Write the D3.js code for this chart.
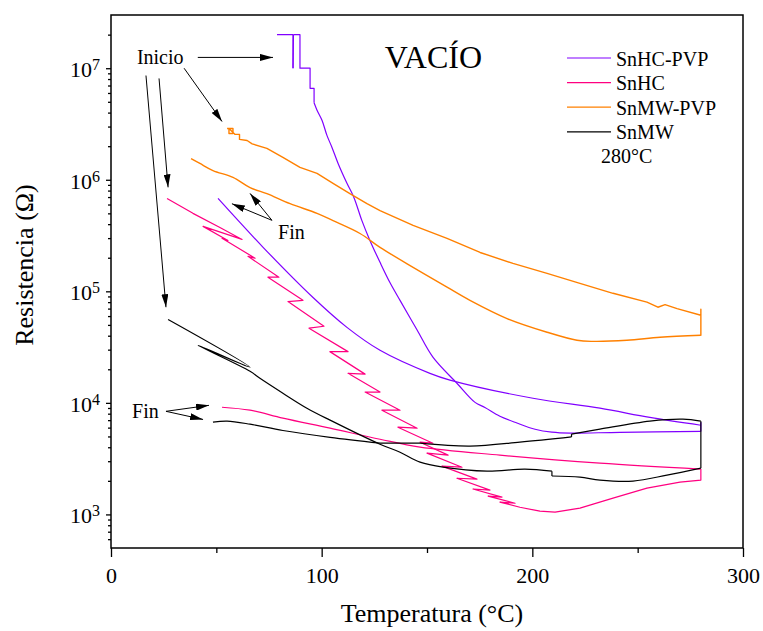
<!DOCTYPE html>
<html>
<head>
<meta charset="utf-8">
<script src="https://cdnjs.cloudflare.com/ajax/libs/d3/7.8.5/d3.min.js"></script>
<style>
body { margin: 0; background: #fff; }
svg text { font-family: 'Liberation Serif', 'Times New Roman', serif; fill: #000; }
</style>
</head>
<body>
<div id="svg-container"></div>
<script>
// points are [temperature (°C), resistance (Ω)]
const snhcPvpHeat = [[78.8, 2.0e7], [86.4, 2.0e7], [86.4, 1.0e7], [86.6, 2.0e7], [89.7, 2.0e7], [89.7, 1.0e7],
  [94.5, 1.0e7], [94.5, 6.6e6], [96.4, 6.6e6], [96.4, 4.9e6], [97.8, 4.2e6], [100.2, 3.4e6], [102.5, 2.5e6],
  [104.9, 1.95e6], [107.8, 1.4e6], [112.0, 9.3e5], [115.3, 6.95e5], [119.1, 4.3e5], [122.9, 2.86e5],
  [127.7, 1.82e5], [132.4, 1.2e5], [137.2, 8.3e4], [145.3, 4.5e4], [152.8, 2.57e4], [164.2, 1.5e4],
  [172.8, 1.01e4], [177.5, 9.1e3], [184.6, 7.6e3], [192.7, 6.6e3], [201.3, 5.8e3], [209.3, 5.46e3],
  [217.9, 5.35e3], [241.6, 5.45e3], [280, 5.55e3], [280, 6.7e3]];
const snhcPvpCool = [[280, 6.3e3], [255.8, 7.4e3], [232.1, 8.96e3], [200.3, 1.1e4], [160.9, 1.6e4], [151.4, 1.84e4],
  [127.7, 2.96e4], [112.0, 4.75e4], [95.9, 8.8e4], [72.2, 2.48e5], [50.8, 6.8e5]];

const snhcHeat = [[26.6, 6.8e5], [38.9, 5.0e5], [51.7, 3.74e5], [62.2, 2.92e5], [43.7, 3.82e5], [55.5, 2.86e5],
  [52.7, 2.99e5], [68.4, 1.98e5], [65.0, 2.06e5], [79.7, 1.34e5], [74.5, 1.34e5], [91.1, 8.3e4], [84.0, 8.1e4],
  [101.1, 4.86e4], [94.0, 4.67e4], [112.5, 2.88e4], [103.9, 2.88e4], [120.6, 1.81e4], [112.5, 1.84e4],
  [127.7, 1.25e4], [120.6, 1.25e4], [137.2, 8.6e3], [128.6, 8.6e3], [145.3, 5.93e3], [136.2, 6.05e3],
  [152.8, 4.35e3], [146.7, 4.44e3], [160.0, 3.4e3], [150.0, 3.54e3], [166.6, 2.65e3], [157.1, 2.71e3],
  [173.7, 2.07e3], [164.2, 2.11e3], [179.9, 1.65e3], [171.8, 1.69e3], [185.6, 1.43e3], [179.0, 1.46e3],
  [191.8, 1.26e3], [184.6, 1.29e3], [194.1, 1.16e3], [203.6, 1.07e3], [210.8, 1.05e3], [222.6, 1.14e3],
  [238.3, 1.4e3], [254.4, 1.72e3], [270.1, 1.95e3], [280, 2.03e3], [280, 2.55e3]];
const snhcCool = [[280, 2.55e3], [232.1, 2.88e3], [184.6, 3.4e3], [146.7, 4.01e3], [127.7, 4.72e3],
  [104.0, 5.93e3], [81.6, 7.29e3], [66.0, 8.6e3], [52.7, 9.14e3]];

const snmwPvpHeat = [[55.1, 2.88e6], [57.9, 2.88e6], [57.9, 2.6e6], [56.0, 2.6e6], [56.0, 2.88e6], [58.9, 2.55e6],
  [61.0, 2.55e6], [61.0, 2.3e6], [64.6, 2.25e6], [67.0, 2.1e6], [74.0, 1.91e6], [81.6, 1.59e6], [89.7, 1.29e6],
  [97.8, 1.14e6], [105.4, 9.3e5], [113.4, 7.5e5], [121.5, 6.1e5], [127.7, 5.3e5], [143.4, 3.9e5], [159.5, 2.98e5],
  [175.2, 2.23e5], [190.8, 1.78e5], [207.0, 1.45e5], [222.6, 1.18e5], [238.3, 9.6e4], [254.4, 8.0e4],
  [259.6, 7.2e4], [263.0, 7.6e4], [268.7, 7.0e4], [280, 6.1e4], [280, 6.9e4], [280, 4.0e4]];
const snmwPvpCool = [[280, 4.04e4], [260.6, 3.87e4], [244.9, 3.64e4], [228.8, 3.56e4], [221.2, 3.64e4],
  [207.0, 4.3e4], [188.0, 5.7e4], [170.4, 8.3e4], [159.5, 1.09e5], [143.4, 1.64e5], [127.7, 2.48e5],
  [118.2, 3.3e5], [105.4, 4.3e5], [97.8, 5.0e5], [85.0, 6.1e5], [74.0, 7.5e5], [66.0, 8.5e5], [57.9, 1.05e6],
  [48.4, 1.21e6], [42.2, 1.4e6], [38.0, 1.55e6]];

const snmwHeat = [[27.1, 5.6e4], [66.0, 2.09e4], [41.3, 3.28e4], [66.0, 1.92e4], [70.7, 1.66e4], [81.6, 1.22e4],
  [93.0, 8.96e3], [104.0, 7.0e3], [127.7, 4.26e3], [137.2, 3.61e3], [146.7, 2.94e3], [157.6, 2.65e3],
  [178.5, 2.44e3], [196.5, 2.55e3], [209.3, 2.44e3], [209.3, 2.21e3], [222.6, 2.16e3], [232.1, 2.03e3],
  [247.8, 1.99e3], [263.9, 2.25e3], [280, 2.6e3], [280, 6.86e3]];
const snmwCool = [[280, 6.86e3], [271.5, 7.14e3], [255.8, 6.86e3], [232.1, 5.81e3], [218.6, 5.25e3],
  [218.6, 4.95e3], [194.1, 4.44e3], [170.4, 4.1e3], [146.7, 4.35e3], [127.7, 4.35e3], [104.0, 4.9e3],
  [81.6, 5.65e3], [66.0, 6.44e3], [55.1, 6.86e3], [48.4, 6.71e3]];

const seriesNames = ['SnHC-PVP', 'SnHC', 'SnMW-PVP', 'SnMW'];
const seriesColors = ['#8000ff', '#ff0080', '#ff8000', '#000000'];
const seriesData = [[snhcPvpHeat, snhcPvpCool], [snhcHeat, snhcCool], [snmwPvpHeat, snmwPvpCool], [snmwHeat, snmwCool]];
// runs drawn fully straight (zigzags / noisy steps)
const straightRuns = [snhcHeat, snmwPvpHeat];

const xMajorTicks = [0, 100, 200, 300];
const xMinorTicks = [50, 150, 250];
const yMajorTicks = [1e3, 1e4, 1e5, 1e6, 1e7];

// annotation arrows, [from, to] in data units
const inicioArrows = [[[41.2, 1.25e7], [76.9, 1.25e7]], [[34.7, 1.0e7], [52.7, 3.33e6]],
  [[22.8, 8.1e6], [27.1, 8.55e5]], [[16.6, 8.6e6], [26.1, 7.2e4]]];
const finArrows = [[[76.4, 4.33e5], [57.4, 6.1e5]], [[76.4, 4.33e5], [66.0, 7.55e5]],
  [[26.1, 8.4e3], [46.5, 9.5e3]], [[26.1, 8.4e3], [43.7, 7.1e3]]];
const labels = [['Inicio', 12.3, 1.1e7], ['Fin', 79.3, 2.92e5], ['Fin', 10.0, 7.3e3]];

const w = 632;
const h = 533;
const padding = { top: 15, right: 20, bottom: 83, left: 111 };

const svg = d3.select('#svg-container').
append('svg').
attr('width', w + padding.left + padding.right).
attr('height', h + padding.top + padding.bottom);

svg.append('defs').
append('marker').
attr('id', 'head').
attr('viewBox', '0 0 13 7').
attr('refX', 13).
attr('refY', 3.5).
attr('markerWidth', 13).
attr('markerHeight', 7).
attr('markerUnits', 'userSpaceOnUse').
attr('orient', 'auto').
append('path').
attr('d', 'M0,0 L13,3.5 L0,7 Z').
style('fill', '#000');

const xScale = d3.scaleLinear().domain([0, 300]).range([0, w]);
const yScale = d3.scaleLog().domain([500, 3e7]).range([h, 0]);

const chart = svg.append('g').
attr('transform', 'translate(' + padding.left + ',' + padding.top + ')');

// curves
const line = d3.line().
x(d => xScale(d[0])).
y(d => yScale(d[1]));
const smoothLine = d3.line().
curve(d3.curveCatmullRom.alpha(0.5)).
x(d => xScale(d[0])).
y(d => yScale(d[1]));

// cut a run into pieces: vertical/horizontal steps straight, the rest smooth
function splitRuns(pts) {
  const pieces = [];
  let cur = [pts[0]];
  let curStep = null;
  for (let i = 1; i < pts.length; i++) {
    const step = pts[i][0] === pts[i - 1][0] || pts[i][1] === pts[i - 1][1];
    if (curStep !== null && step !== curStep) {
      pieces.push({ pts: cur, step: curStep });
      cur = [pts[i - 1]];
    }
    cur.push(pts[i]);
    curStep = step;
  }
  pieces.push({ pts: cur, step: curStep });
  return pieces;
}

seriesData.forEach(function (pair, i) {
  pair.forEach(function (pts) {
    const pieces = straightRuns.includes(pts) ? [{ pts: pts, step: true }] : splitRuns(pts);
    pieces.forEach(function (p) {
      chart.append('path').
      datum(p.pts).
      attr('d', p.step ? line : smoothLine).
      style('fill', 'none').
      style('stroke', seriesColors[i]).
      style('stroke-width', i === 2 ? 1.4 : 1.2).
      style('stroke-linejoin', 'round');
    });
  });
});

// axes
const xAxis = d3.axisBottom(xScale).tickValues(xMajorTicks).tickSize(9).tickSizeOuter(0);
const xAxisMinor = d3.axisBottom(xScale).tickValues(xMinorTicks).tickSize(5).tickSizeOuter(0).tickFormat('');

const gx = chart.append('g').attr('transform', 'translate(0,' + h + ')').call(xAxis);
chart.append('g').attr('transform', 'translate(0,' + h + ')').call(xAxisMinor);
gx.selectAll('text').attr('y', 35).attr('dy', null).style('font-size', '22px');

const yMinorTicks = [];
for (let e = 2; e <= 7; e++) {
  for (let m = 2; m <= 9; m++) {
    const v = m * Math.pow(10, e);
    if (v >= 600 && v <= 2e7) yMinorTicks.push(v);
  }
}
const yAxis = d3.axisLeft(yScale).tickValues(yMajorTicks).tickSize(5).tickSizeOuter(0).tickFormat('');
const yAxisMinor = d3.axisLeft(yScale).tickValues(yMinorTicks).tickSize(3).tickSizeOuter(0).tickFormat('');
chart.append('g').call(yAxis);
chart.append('g').call(yAxisMinor);

chart.selectAll('.domain').remove();
chart.selectAll('.tick line').style('stroke', '#000').style('stroke-width', 1.3);

yMajorTicks.forEach(function (v) {
  const t = chart.append('text').
  attr('x', -11).
  attr('y', yScale(v) + 9).
  attr('text-anchor', 'end').
  style('font-size', '22px');
  t.append('tspan').text('10');
  t.append('tspan').attr('dy', -7).style('font-size', '16px').text(Math.round(Math.log10(v)));
});

// frame
chart.append('rect').
attr('width', w).
attr('height', h).
style('fill', 'none').
style('stroke', '#000').
style('stroke-width', 1.5);

// axis titles
svg.append('text').
attr('x', padding.left + w / 2 + 5).
attr('y', 622).
attr('text-anchor', 'middle').
style('font-size', '26px').
text('Temperatura (°C)');

svg.append('text').
attr('transform', 'translate(33,' + 265 + ') rotate(-90)').
attr('text-anchor', 'middle').
style('font-size', '26px').
text('Resistencia (Ω)');

// title
chart.append('text').
attr('x', xScale(130)).
attr('y', yScale(1.0e7)).
style('font-size', '32px').
text('VACÍO');

// legend
const legend = chart.append('g').attr('transform', 'translate(' + (w - 176) + ',43)');
seriesNames.forEach(function (name, i) {
  legend.append('line').
  attr('x1', 0).attr('x2', 44).
  attr('y1', i * 24.6).attr('y2', i * 24.6).
  style('stroke', seriesColors[i]).
  style('stroke-width', 1.2);
  legend.append('text').
  attr('x', 49).
  attr('y', i * 24.6 + 7.5).
  style('font-size', '20px').
  text(name);
});
legend.append('text').
attr('x', 34).
attr('y', 4 * 24.6 + 7).
style('font-size', '20px').
text('280°C');

// annotations
inicioArrows.concat(finArrows).forEach(function (a) {
  chart.append('line').
  attr('x1', xScale(a[0][0])).attr('y1', yScale(a[0][1])).
  attr('x2', xScale(a[1][0])).attr('y2', yScale(a[1][1])).
  style('stroke', '#000').
  style('stroke-width', 1).
  attr('marker-end', 'url(#head)');
});

labels.forEach(function (l) {
  chart.append('text').
  attr('x', xScale(l[1])).
  attr('y', yScale(l[2])).
  style('font-size', '20px').
  text(l[0]);
});
</script>
</body>
</html>
